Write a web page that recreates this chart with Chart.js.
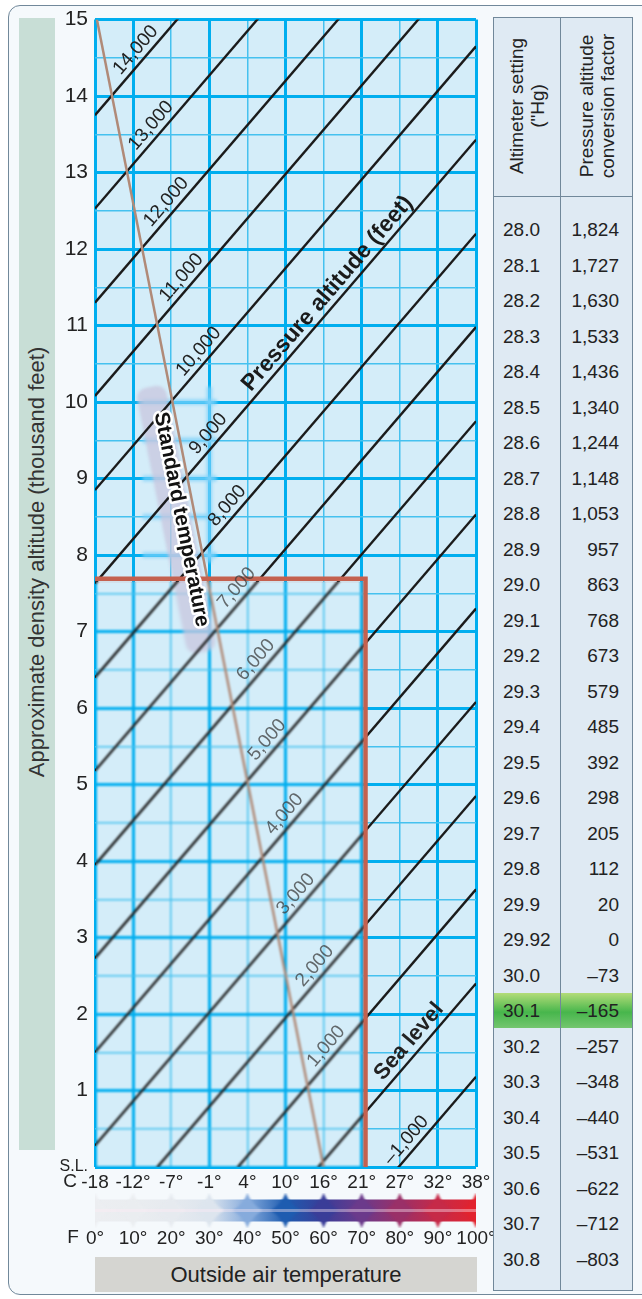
<!DOCTYPE html>
<html>
<head>
<meta charset="utf-8">
<script src="https://cdn.jsdelivr.net/npm/chart.js@4.4.0/dist/chart.umd.min.js"></script>
<style>
  body { margin: 0; width: 642px; height: 1299px; position: relative; overflow: hidden; background: #fff;
         font-family: "Liberation Sans", Arial, sans-serif; color: #222; }
  #frame { position: absolute; left: 8px; top: 5px; width: 660px; height: 1288px; border: 1.5px solid #71889a;
           border-radius: 12px; background: #f5f9fc; }
  #ybar { position: absolute; left: 19px; top: 18px; width: 36px; height: 1132px; background: #c8ded6; }
  #ytitle { position: absolute; left: 37px; top: 562px; transform: translate(-50%, -50%) rotate(-90deg);
            white-space: nowrap; font-size: 22px; color: #333; }
  #chart { position: absolute; left: 0; top: 0; }
  #xbox { position: absolute; left: 95px; top: 1257px; width: 382px; height: 35px; background: #d5d5d1;
          font-size: 22px; line-height: 35px; text-align: center; color: #222; }
  #tbl { position: absolute; left: 493px; top: 17px; width: 140px; height: 1274px; background: #dfeaf3;
         border: 1.5px solid #71889a; box-sizing: border-box; }
  #tbl .div { position: absolute; left: 66px; top: 0; bottom: 0; border-left: 1.5px solid #71889a; }
  #tbl .hline { position: absolute; left: 0; right: 0; top: 178px; border-top: 1.5px solid #71889a; }
  #tbl .head { position: absolute; top: 88px; transform: translate(-50%, -50%) rotate(-90deg); white-space: nowrap;
               font-size: 19px; line-height: 21px; text-align: center; color: #222; }
  #tbl .row { position: absolute; left: 0; right: 0; height: 35px; font-size: 19px; line-height: 35px; }
  #tbl .row.hi { background: linear-gradient(#b3dc78, #47b64c 55%, #74c66f); }
  #tbl .a { position: absolute; left: 9px; }
  #tbl .b { position: absolute; right: 13px; }
</style>
</head>
<body>
<div id="frame"></div>
<div id="ybar"></div>
<div id="ytitle">Approximate density altitude (thousand feet)</div>
<canvas id="chart" width="642" height="1299"></canvas>
<div id="xbox">Outside air temperature</div>
<div id="tbl">
  <div class="hline"></div>
  <div class="head" style="left:33px">Altimeter setting<br>("Hg)</div>
  <div class="head" style="left:103px">Pressure altitude<br>conversion factor</div>
</div>

<script>
// temperature axis (degrees F) and its two label rows
const tempF = [0, 10, 20, 30, 40, 50, 60, 70, 80, 90, 100];
const tempCLabels = ["-18", "-12°", "-7°", "-1°", "4°", "10°", "16°", "21°", "27°", "32°", "38°"];
const tempFLabels = ["0°", "10°", "20°", "30°", "40°", "50°", "60°", "70°", "80°", "90°", "100°"];

// pressure altitude lines, density altitude (thousand ft) read at 0°F and 100°F
const pressureLabels = ["14,000", "13,000", "12,000", "11,000", "10,000", "9,000", "8,000", "7,000",
                        "6,000", "5,000", "4,000", "3,000", "2,000", "1,000", "Sea level", "–1,000"];
const daAt0F   = [13.75, 12.53, 11.30, 10.08, 8.85, 7.63, 6.40, 5.18, 3.95, 2.73, 1.50, 0.28, -0.95, -2.18, -3.40, -4.63];
const daAt100F = [19.55, 18.33, 17.10, 15.88, 14.65, 13.43, 12.20, 10.98, 9.75, 8.53, 7.30, 6.08, 4.85, 3.63, 2.40, 1.18];
const labelAtF = [13, 17, 21, 25, 29.5, 32, 37, 39.5, 44.5, 47.5, 52, 55, 60, 63, 85, 84];

// standard temperature line
const stdTempF = [0.5, 60];
const stdTempDA = [15, 0];

// highlighted example box
const boxF = [0, 71, 71];
const boxDA = [7.69, 7.69, 0];

// altimeter setting table
const altimeter = ["28.0", "28.1", "28.2", "28.3", "28.4", "28.5", "28.6", "28.7", "28.8", "28.9",
                   "29.0", "29.1", "29.2", "29.3", "29.4", "29.5", "29.6", "29.7", "29.8", "29.9",
                   "29.92", "30.0", "30.1", "30.2", "30.3", "30.4", "30.5", "30.6", "30.7", "30.8"];
const conversion = ["1,824", "1,727", "1,630", "1,533", "1,436", "1,340", "1,244", "1,148", "1,053", "957",
                    "863", "768", "673", "579", "485", "392", "298", "205", "112", "20",
                    "0", "–73", "–165", "–257", "–348", "–440", "–531", "–622", "–712", "–803"];

// build the table
const tbl = document.getElementById("tbl");
altimeter.forEach((a, i) => {
    const row = document.createElement("div");
    row.className = "row" + (a === "30.1" ? " hi" : "");
    row.style.top = (194 + i * 35.5) + "px";
    row.innerHTML = `<span class="a">${a}</span><span class="b">${conversion[i]}</span>`;
    tbl.appendChild(row);
});
const divLine = document.createElement("div");
divLine.className = "div";
tbl.appendChild(divLine);

const barColors = ["#eceef1", "#eaedf0", "#e6eaef", "#dde5ee", "#86abdc", "#1e5cb0",
                   "#3a3d98", "#6b3a8b", "#9a3068", "#c62a48", "#e2232e"];

Chart.defaults.font.family = "'Liberation Sans', Arial, sans-serif";
Chart.defaults.color = "#222";

function lerp(a, b, t) { return a + (b - a) * t; }

const extras = {
    id: "extras",
    beforeDraw(chart) {
        const { ctx, chartArea: a } = chart;
        ctx.save();
        ctx.fillStyle = "#d4edf9";
        ctx.fillRect(a.left, a.top, a.right - a.left, a.bottom - a.top);
        ctx.restore();
    },
    beforeDatasetsDraw(chart) {
        const { ctx } = chart;
        const xs = chart.scales.x, ys = chart.scales.y;
        ctx.save();
        // glow over grid near the standard temperature label
        ctx.filter = "blur(1.5px)";
        ctx.strokeStyle = "rgba(125,210,250,0.7)";
        ctx.lineWidth = 6;
        [10, 9.5, 9, 8.5, 8].forEach(v => {
            ctx.beginPath();
            ctx.moveTo(xs.getPixelForValue(12.5), ys.getPixelForValue(v));
            ctx.lineTo(xs.getPixelForValue(32), ys.getPixelForValue(v));
            ctx.stroke();
        });
        ctx.beginPath();
        ctx.moveTo(xs.getPixelForValue(30), ys.getPixelForValue(10.2));
        ctx.lineTo(xs.getPixelForValue(30), ys.getPixelForValue(7.9));
        ctx.stroke();
        // soft box behind the label
        const p0 = { x: xs.getPixelForValue(stdTempF[0]), y: ys.getPixelForValue(stdTempDA[0]) };
        const p1 = { x: xs.getPixelForValue(stdTempF[1]), y: ys.getPixelForValue(stdTempDA[1]) };
        const ang = Math.atan2(p1.y - p0.y, p1.x - p0.x);
        const t = (stdTempDA[0] - 8.45) / (stdTempDA[0] - stdTempDA[1]);
        ctx.translate(lerp(p0.x, p1.x, t), lerp(p0.y, p1.y, t));
        ctx.rotate(ang);
        ctx.filter = "blur(1.5px)";
        ctx.fillStyle = "rgba(200,198,222,0.75)";
        ctx.beginPath();
        ctx.roundRect(-140, 4, 270, 30, 10);
        ctx.fill();
        ctx.restore();
    },
    afterDatasetsDraw(chart) {
        const { ctx } = chart;
        const xs = chart.scales.x, ys = chart.scales.y;
        // softened (magnified) look inside the example box
        {
            const bx = xs.getPixelForValue(boxF[0]) + 1, by = ys.getPixelForValue(boxDA[0]) + 3;
            const bw = xs.getPixelForValue(boxF[1]) - bx - 2, bh = ys.getPixelForValue(0) - by;
            ctx.save();
            ctx.beginPath();
            ctx.rect(bx, by, bw, bh);
            ctx.clip();
            ctx.filter = "blur(0.9px)";
            ctx.drawImage(chart.canvas, 0, 0);
            ctx.restore();
        }
        pressureLabels.forEach((lab, i) => {
            const x0 = xs.getPixelForValue(0), x1 = xs.getPixelForValue(100);
            const y0 = ys.getPixelForValue(daAt0F[i]), y1 = ys.getPixelForValue(daAt100F[i]);
            const t = labelAtF[i] / 100;
            const ang = Math.atan2(y1 - y0, x1 - x0);
            const bold = lab === "Sea level";
            const inside = labelAtF[i] < boxF[1] && lerp(daAt0F[i], daAt100F[i], t) < boxDA[0];
            ctx.save();
            ctx.translate(lerp(x0, x1, t), lerp(y0, y1, t));
            ctx.rotate(ang);
            ctx.font = (bold ? "bold 22px" : "19px") + " 'Liberation Sans', Arial, sans-serif";
            ctx.fillStyle = inside ? "rgba(60,60,60,0.75)" : "#222";
            if (inside) ctx.filter = "blur(0.6px)";
            ctx.textAlign = "center";
            ctx.textBaseline = "bottom";
            ctx.fillText(lab, 0, -2);
            ctx.restore();
        });
        // "Pressure altitude (feet)" along the 9,000 line
        {
            const i = 5;
            const x0 = xs.getPixelForValue(0), x1 = xs.getPixelForValue(100);
            const y0 = ys.getPixelForValue(daAt0F[i]), y1 = ys.getPixelForValue(daAt100F[i]);
            const t = 0.635;
            ctx.save();
            ctx.translate(lerp(x0, x1, t), lerp(y0, y1, t));
            ctx.rotate(Math.atan2(y1 - y0, x1 - x0));
            ctx.font = "bold 23px 'Liberation Sans', Arial, sans-serif";
            ctx.fillStyle = "#1a1a1a";
            ctx.textAlign = "center";
            ctx.textBaseline = "bottom";
            ctx.fillText("Pressure altitude (feet)", 0, -1);
            ctx.restore();
        }
        // standard temperature label
        {
            const p0 = { x: xs.getPixelForValue(stdTempF[0]), y: ys.getPixelForValue(stdTempDA[0]) };
            const p1 = { x: xs.getPixelForValue(stdTempF[1]), y: ys.getPixelForValue(stdTempDA[1]) };
            const t = (stdTempDA[0] - 8.5) / (stdTempDA[0] - stdTempDA[1]);
            ctx.save();
            ctx.translate(lerp(p0.x, p1.x, t), lerp(p0.y, p1.y, t));
            ctx.rotate(Math.atan2(p1.y - p0.y, p1.x - p0.x));
            ctx.font = "bold 21px 'Liberation Sans', Arial, sans-serif";
            ctx.textAlign = "center";
            ctx.textBaseline = "middle";
            ctx.lineJoin = "round";
            ctx.lineWidth = 5;
            ctx.strokeStyle = "#fff";
            ctx.strokeText("Standard temperature", 0, 14);
            ctx.fillStyle = "#111";
            ctx.fillText("Standard temperature", 0, 14);
            ctx.restore();
        }
    },
    afterDraw(chart) {
        const { ctx, chartArea: a } = chart;
        const xs = chart.scales.x;
        const xL = xs.getPixelForValue(0), xR = xs.getPixelForValue(100);
        const top = a.bottom + 26, h = 35, mid = top + h / 2;
        ctx.save();
        ctx.beginPath();
        ctx.rect(xL, top, xR - xL, h);
        ctx.clip();
        const g = ctx.createLinearGradient(xL, 0, xR, 0);
        barColors.forEach((c, i) => g.addColorStop(tempF[i] / 100, c));
        ctx.fillStyle = g;
        ctx.fillRect(xL, mid - 11, xR - xL, 22);
        ctx.filter = "blur(1px)";
        tempF.forEach((f, i) => {
            const cx = xs.getPixelForValue(f);
            ctx.fillStyle = barColors[i];
            ctx.beginPath();
            ctx.moveTo(cx, top);
            ctx.quadraticCurveTo(cx + 4, mid - 6, cx + 15, mid);
            ctx.quadraticCurveTo(cx + 4, mid + 6, cx, top + h);
            ctx.quadraticCurveTo(cx - 4, mid + 6, cx - 15, mid);
            ctx.quadraticCurveTo(cx - 4, mid - 6, cx, top);
            ctx.fill();
        });
        ctx.filter = "none";
        ctx.fillStyle = "rgba(255,235,245,0.4)";
        ctx.fillRect(xL, mid - 1.5, xR - xL, 3);
        ctx.restore();

        ctx.save();
        ctx.font = "19px 'Liberation Sans', Arial, sans-serif";
        ctx.fillStyle = "#222";
        ctx.textAlign = "center";
        ctx.textBaseline = "middle";
        ctx.fillText("C", 70, a.bottom + 15);
        ctx.fillText("F", 73, a.bottom + 71);
        ctx.restore();
    }
};

const datasets = [
    {
        label: "box",
        data: boxF.map((f, i) => ({ x: f, y: boxDA[i] })),
        borderColor: "#c4614f",
        borderWidth: 4.5
    },
    {
        label: "Standard temperature",
        data: stdTempF.map((f, i) => ({ x: f, y: stdTempDA[i] })),
        borderColor: "#b08a78",
        borderWidth: 2.5
    }
].concat(pressureLabels.map((lab, i) => ({
    label: lab,
    data: [{ x: 0, y: daAt0F[i] }, { x: 100, y: daAt100F[i] }],
    borderColor: "#1b1b1b",
    borderWidth: 2.4
})));

const isMajorF = v => v === 0 || v === 100 || (v / 10) % 2 === 1;

new Chart(document.getElementById("chart").getContext("2d"), {
    type: "scatter",
    data: { datasets: datasets },
    options: {
        responsive: false,
        devicePixelRatio: 1,
        animation: false,
        showLine: true,
        elements: { point: { radius: 0 }, line: { tension: 0 } },
        layout: { padding: { left: 0, top: 18, right: 166, bottom: 37 } },
        plugins: { legend: { display: false }, tooltip: { enabled: false } },
        scales: {
            x: {
                type: "linear", position: "bottom", min: 0, max: 100,
                afterFit: s => { s.height = 25; },
                border: { display: false },
                grid: {
                    drawTicks: false,
                    color: c => isMajorF(c.tick.value) ? "#00aeef" : "#45c1ef",
                    lineWidth: c => isMajorF(c.tick.value) ? 3 : 1.5
                },
                ticks: {
                    stepSize: 10, autoSkip: false, maxRotation: 0, padding: 4,
                    font: { size: 19 }, color: "#222",
                    callback: (v, i) => tempCLabels[tempF.indexOf(v)]
                }
            },
            x2: {
                type: "linear", position: "bottom", min: 0, max: 100,
                afterFit: s => { s.height = 70; },
                border: { display: false },
                grid: { display: false, drawTicks: false },
                ticks: {
                    stepSize: 10, autoSkip: false, maxRotation: 0, padding: 35,
                    font: { size: 19 }, color: "#222",
                    callback: (v, i) => tempFLabels[tempF.indexOf(v)]
                }
            },
            y: {
                min: 0, max: 15,
                afterFit: s => { s.width = 95; },
                border: { display: false },
                grid: {
                    drawTicks: false,
                    color: c => Number.isInteger(c.tick.value) ? "#00aeef" : "#45c1ef",
                    lineWidth: c => Number.isInteger(c.tick.value) ? 3 : 1.5
                },
                ticks: {
                    stepSize: 0.5, autoSkip: false, padding: 7, color: "#222",
                    font: c => ({ size: c.tick && c.tick.value === 0 ? 16 : 21 }),
                    callback: v => v === 0 ? "S.L." : (Number.isInteger(v) ? String(v) : "")
                }
            }
        }
    },
    plugins: [extras]
});
</script>
</body>
</html>
